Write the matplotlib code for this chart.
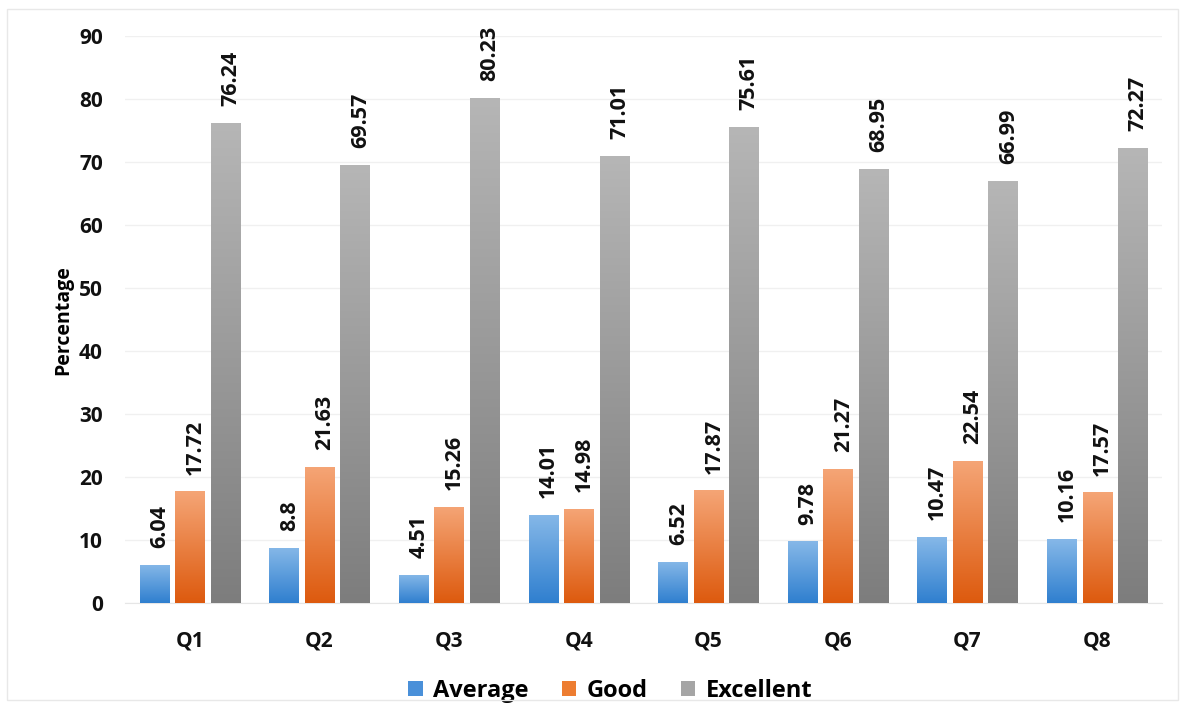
import numpy as np
import matplotlib
matplotlib.use('Agg')
from matplotlib import pyplot as plt
from matplotlib.colors import LinearSegmentedColormap

questions = ['Q1', 'Q2', 'Q3', 'Q4', 'Q5', 'Q6', 'Q7', 'Q8']
average = [6.04, 8.8, 4.51, 14.01, 6.52, 9.78, 10.47, 10.16]
good = [17.72, 21.63, 15.26, 14.98, 17.87, 21.27, 22.54, 17.57]
excellent = [76.24, 69.57, 80.23, 71.01, 75.61, 68.95, 66.99, 72.27]
series_names = ['Average', 'Good', 'Excellent']

plt.rcParams['font.family'] = ['Open Sans', 'DejaVu Sans']
plt.rcParams['font.weight'] = 'bold'

# (top colour, bottom colour) for the gradient fill
grads = [('#86b8e8', '#2f7fcf'), ('#f5a576', '#dd5a0e'), ('#b6b6b6', '#7d7d7d')]
solid = ['#4a90d9', '#ed7d31', '#a5a5a5']

fig = plt.figure(figsize=(11.85, 7.09), dpi=100)
ax = fig.add_axes([0.1055, 0.1495, 0.875, 0.7995])

x = np.arange(len(questions))
w = 0.225
step = 0.274

def gradient_fill(patch, c_top, c_bot):
  cmap = LinearSegmentedColormap.from_list('g', [c_bot, c_top])
  bb = patch.get_bbox()
  grad = np.linspace(0, 1, 256).reshape(-1, 1)
  im = ax.imshow(grad, cmap=cmap, aspect='auto', origin='lower',
                 extent=[bb.x0, bb.x1, bb.y0, bb.y1], zorder=3)
  im.set_clip_path(patch)

for i, vals in enumerate([average, good, excellent]):
  bars = ax.bar(x + (i - 1) * step, vals, width=w, color=solid[i],
                edgecolor='none', label=series_names[i], zorder=2)
  for b, v in zip(bars, vals):
    gradient_fill(b, grads[i][0], grads[i][1])
    ax.annotate('%g' % v, (b.get_x() + b.get_width() / 2, v),
                xytext=(4, 12), textcoords='offset points', rotation=90,
                ha='center', va='bottom', fontsize=15.5, fontweight='bold',
                color='#111111', zorder=4)

ax.set_xlim(-0.5, len(questions) - 0.5)
ax.set_ylim(0, 90)
ax.set_yticks(range(0, 91, 10))
ax.set_xticks(x)
ax.set_xticklabels(questions)
ax.tick_params(axis='both', length=0, labelsize=15, colors='#111111')
ax.tick_params(axis='x', pad=20)
ax.tick_params(axis='y', pad=16)
ax.yaxis.grid(True, color='#f0f0f0', linewidth=1, zorder=0)
ax.set_axisbelow(True)
for s in ['top', 'right', 'left']:
  ax.spines[s].set_visible(False)
ax.spines['bottom'].set_color('#e6e6e6')
ax.set_ylabel('Percentage', fontsize=14, fontweight='bold', labelpad=4)

leg = ax.legend(loc='upper center', bbox_to_anchor=(0.468, -0.097), ncol=3,
                frameon=False, fontsize=17, handlelength=0.6, handleheight=0.6,
                handletextpad=0.45, columnspacing=1.4)

# thin outer frame around the whole chart
fig.patches.append(plt.Rectangle((0.006, 0.012), 0.988, 0.975, transform=fig.transFigure,
                                 fill=False, edgecolor='#e8e8e8', linewidth=1))

fig.savefig('out.png', dpi=100)
